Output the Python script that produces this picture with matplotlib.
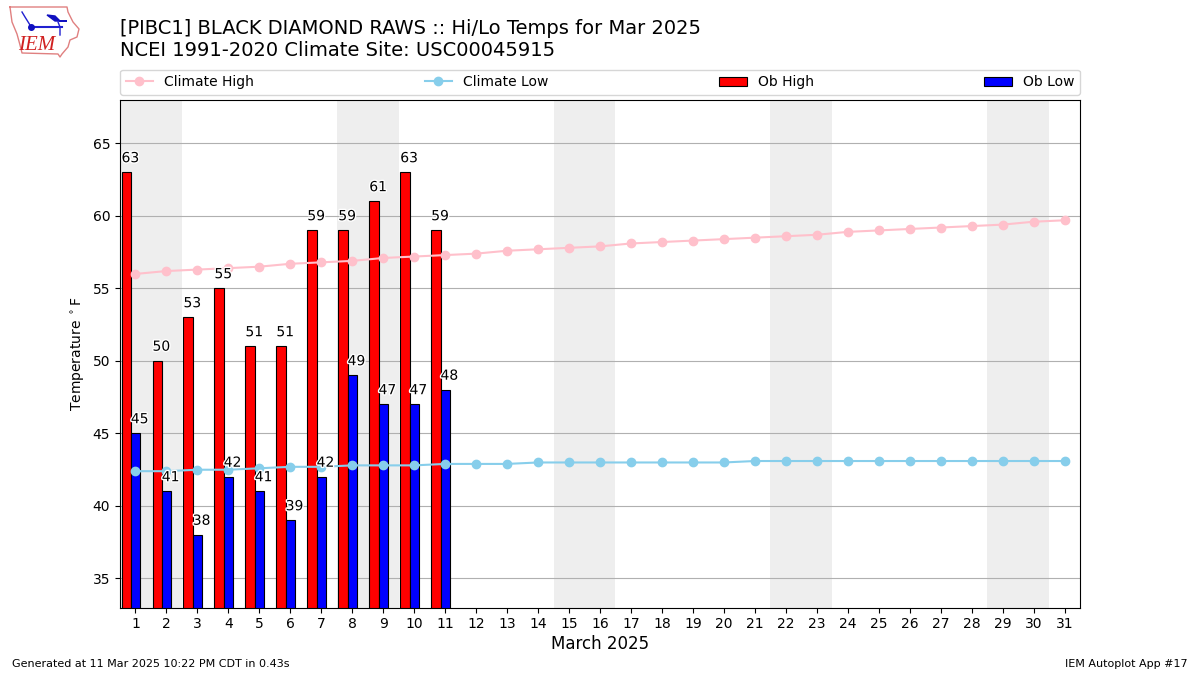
"""
Hi/Lo temperatures for a month against the climate normals.
"""
import matplotlib
matplotlib.use("Agg")
from matplotlib import pyplot as plt
from matplotlib import patheffects as pe

days = list(range(1, 32))
ob_days = list(range(1, 12))
ob_high = [63, 50, 53, 55, 51, 51, 59, 59, 61, 63, 59]
ob_low = [45, 41, 38, 42, 41, 39, 42, 49, 47, 47, 48]
climate_high = [56.0, 56.2, 56.3, 56.4, 56.5, 56.7, 56.8, 56.9, 57.1, 57.2, 57.3,
                57.4, 57.6, 57.7, 57.8, 57.9, 58.1, 58.2, 58.3, 58.4, 58.5, 58.6,
                58.7, 58.9, 59.0, 59.1, 59.2, 59.3, 59.4, 59.6, 59.7]
climate_low = [42.4, 42.4, 42.5, 42.5, 42.6, 42.7, 42.7, 42.8, 42.8, 42.8, 42.9,
               42.9, 42.9, 43.0, 43.0, 43.0, 43.0, 43.0, 43.0, 43.0, 43.1, 43.1,
               43.1, 43.1, 43.1, 43.1, 43.1, 43.1, 43.1, 43.1, 43.1]
weekend_starts = [1, 8, 15, 22, 29]

# logo drawing, in logo pixels
iowa_x = [10, 67, 68, 73, 79, 77, 70, 68, 62, 60, 58, 22, 20, 17, 12, 10]
iowa_y = [7, 7, 12, 22, 29, 37, 40, 47, 54, 57, 54, 53, 45, 34, 22, 7]
mast_x = [22, 25, 30]
mast_y = [12, 17, 25]
wing_x = [47, 55, 60, 67, 55]
wing_y = [15, 16, 21, 21, 21]
tail_x = [58, 60, 60]
tail_y = [22, 27, 35]

fig = plt.figure(figsize=(12, 6.75), dpi=100)
ax = fig.add_axes([0.1, 0.1, 0.8, 0.752])

for start in weekend_starts:
    ax.axvspan(start - 0.5, start + 1.5, color="#eeeeee", lw=0, zorder=0)

ax.grid(axis="y", color="#b0b0b0", zorder=1)
ax.set_axisbelow(True)

ax.plot(days, climate_high, color="pink", marker="o", label="Climate High", zorder=3)
ax.plot(days, climate_low, color="skyblue", marker="o", label="Climate Low", zorder=3)

width = 0.3
ax.bar([d - width for d in ob_days], ob_high, width=width, color="r",
       edgecolor="k", lw=0.8, label="Ob High", zorder=2)
ax.bar(ob_days, ob_low, width=width, color="b",
       edgecolor="k", lw=0.8, label="Ob Low", zorder=2)

halo = [pe.withStroke(linewidth=2, foreground="white")]
for d, hi, lo in zip(ob_days, ob_high, ob_low):
    ax.text(d - 1.5 * width, hi + 0.5, str(hi), ha="left", va="bottom",
            path_effects=halo, zorder=4)
    ax.text(d - 0.5 * width, lo + 0.5, str(lo), ha="left", va="bottom",
            path_effects=halo, zorder=4)

ax.set_xlim(0.5, 31.5)
ax.set_ylim(33, 68)
ax.set_xticks(days)
ax.set_yticks([35, 40, 45, 50, 55, 60, 65])
ax.set_xlabel("March 2025", fontsize=12, labelpad=3)
ax.set_ylabel(r"Temperature $^\circ$F")

ax.legend(loc="lower left", bbox_to_anchor=(0, 1.01, 1, 0.05), mode="expand",
          ncol=4, borderaxespad=0)

fig.text(0.1, 0.9105, "[PIBC1] BLACK DIAMOND RAWS :: Hi/Lo Temps for Mar 2025\n"
         "NCEI 1991-2020 Climate Site: USC00045915", fontsize=14, va="bottom",
         ha="left", linespacing=1.2)
fig.text(0.01, 0.012, "Generated at 11 Mar 2025 10:22 PM CDT in 0.43s", fontsize=8)
fig.text(0.99, 0.012, "IEM Autoplot App #17", fontsize=8, ha="right")

# logo
logo = fig.add_axes([0, 1 - 62 / 675, 85 / 1200, 62 / 675])
logo.set_xlim(0, 85)
logo.set_ylim(62, 0)
logo.axis("off")
logo.plot(iowa_x, iowa_y, color="#e08080", lw=1)
logo.plot(mast_x, mast_y, color="#2020d0", lw=1)
logo.plot([31, 62], [27, 27], color="#2020d0", lw=1.5)
logo.plot([31], [27], color="#1010c0", marker="o", ms=4)
logo.fill(wing_x, wing_y, color="#1010c0")
logo.plot(tail_x, tail_y, color="#2020d0", lw=1)
logo.text(37, 45, "IEM", color="#d02020", family="Liberation Serif", style="italic",
          fontsize=15, ha="center", va="center")

fig.savefig("out.png", dpi=100)
